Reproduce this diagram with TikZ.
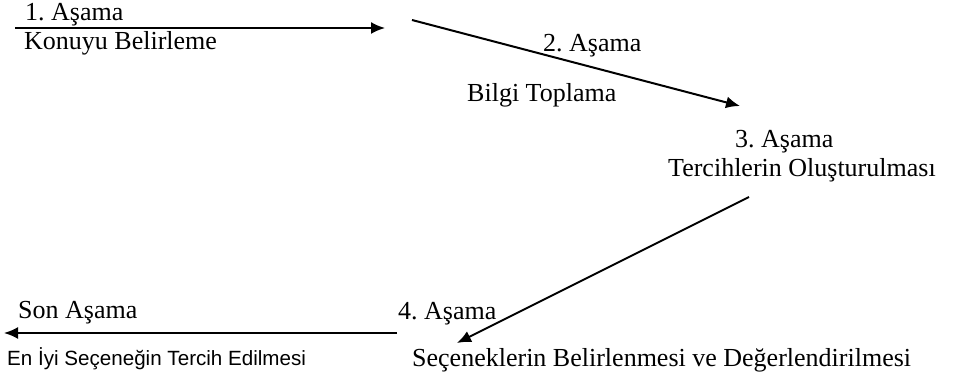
\documentclass[tikz,border=0pt]{standalone}
\usepackage{fontspec}
\setmainfont{Liberation Serif}
\newfontfamily\arialfont{Liberation Sans}
\frenchspacing
\usetikzlibrary{
  calc,
  arrows.meta
}
\tikzset{
>={Latex[length=14pt,width=12pt]},
lbl/.style={inner sep=0pt, anchor=base west, font=\fontsize{26}{28}\selectfont},
sanslbl/.style={inner sep=0pt, anchor=base west, font=\arialfont\fontsize{20.6}{24}\selectfont},
phase/.style={->, line width=2pt}
}

\begin{document}
\begin{tikzpicture}[x=1pt,y=-1pt]
 \useasboundingbox (0,0) rectangle (954,377);
 % stage labels
 \node[lbl] (s1) at (25,21) {1. Aşama};
 \node[lbl] (t1) at (24,50) {Konuyu Belirleme};
 \node[lbl] (s2) at (543,52) {2. Aşama};
 \node[lbl] (t2) at (467,102) {Bilgi Toplama};
 \node[lbl] (s3) at (735,148) {3. Aşama};
 \node[lbl] (t3) at (668,177) {Tercihlerin Oluşturulması};
 \node[lbl] (s4) at (398,319) {4. Aşama};
 \node[lbl] (t4) at (412,366) {Seçeneklerin Belirlenmesi ve Değerlendirilmesi};
 \node[lbl] (s5) at (18,318) {Son Aşama};
 \node[sanslbl] (t5) at (7,365) {En İyi Seçeneğin Tercih Edilmesi};
 % arrows
 \coordinate (a1) at (15,28);
 \coordinate (b1) at (385,28);
 \coordinate (a2) at (412,20);
 \coordinate (b2) at (740,106);
 \coordinate (a3) at (749,197);
 \coordinate (b3) at (457,343);
 \coordinate (a4) at (397,333);
 \coordinate (b4) at (4,333);
 \draw[phase] (a1) -- (b1);
 \draw[phase] (a2) -- (b2);
 \draw[phase] (a3) -- (b3);
 \draw[phase] (a4) -- (b4);
\end{tikzpicture}
\end{document}
